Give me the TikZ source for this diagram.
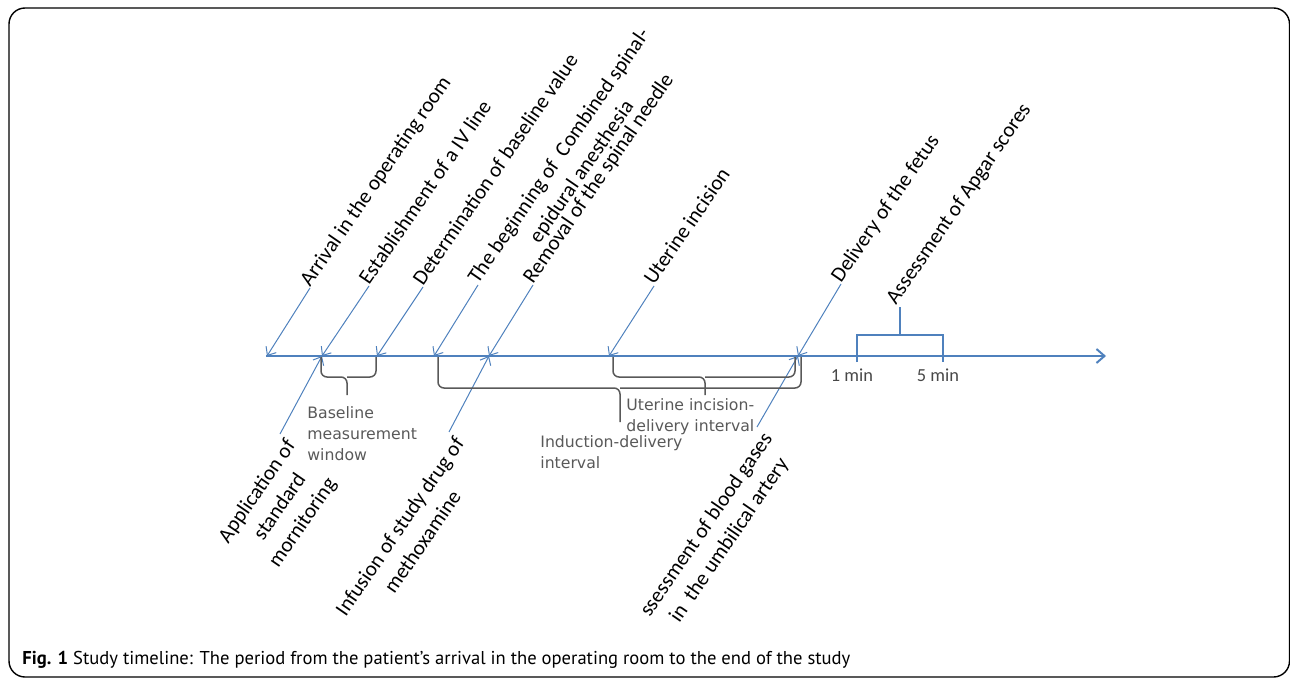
\documentclass[tikz,border=0pt]{standalone}
\usepackage{fontspec}
\usepackage{xcolor}
\usepackage{tikz}
\usetikzlibrary{arrows.meta}
\newfontfamily\lblfont{Carlito}
\newfontfamily\brfont{DejaVu Sans}
\newfontfamily\capfont{PT Sans}
\definecolor{lineblue}{RGB}{79,129,189}
\definecolor{bracegray}{RGB}{89,89,89}
\newcommand{\tstack}[2]{\begin{tabular}[t]{@{}#1@{}}#2\end{tabular}}

\begin{document}
\begin{tikzpicture}[
  x=0.5pt, y=-0.5pt,
  event/.style={font=\lblfont\fontsize{10.6}{13.8}\selectfont, rotate=55.5, inner sep=0pt},
  toplabel/.style={event, anchor=base west},
  botlabel/.style={event, anchor=north east},
  lead/.style={draw=lineblue, line width=0.5pt, -{Straight Barb[length=3.5pt,width=6pt]}},
  axis/.style={draw=lineblue, line width=1pt, -{Straight Barb[length=4pt,width=7pt]}},
  brace/.style={draw=bracegray, line width=0.75pt, rounded corners=3},
  bracelabel/.style={font=\brfont\fontsize{7.85}{10.5}\selectfont, text=bracegray, anchor=base west, inner sep=0pt},
  minlabel/.style={font=\lblfont\fontsize{9.2}{11}\selectfont, text=bracegray!80!black, anchor=base}
]
\useasboundingbox (0,0) rectangle (1290,679);
\draw[line width=0.7pt, rounded corners=8] (9,8) rectangle (1289.5,677);

% time axis and the events on it
\coordinate (start) at (266,356);
\coordinate (end) at (1106,356);
\draw[axis] (start) -- (end);
\coordinate (tArr) at (267,356);
\coordinate (tEst) at (322,356);
\coordinate (tDet) at (377,356);
\coordinate (tBeg) at (434,356);
\coordinate (tRem) at (489,356);
\coordinate (tUte) at (609,356);
\coordinate (tDel) at (798,356);

\node[toplabel] (arr) at (310,288) {Arrival in the operating room};
\node[toplabel] (est) at (369,286) {Establishment of a IV line};
\node[toplabel] (det) at (423,287) {Determination of baseline value};
\node[toplabel] (beg) at (478,285) {\tstack{c}{The beginning of\ \ Combined spinal-\\epidural anesthesia}};
\node[toplabel] (rem) at (533,285) {Removal of the spinal needle};
\node[toplabel] (ute) at (654,286) {Uterine incision};
\node[toplabel] (del) at (841,284) {Delivery of the fetus};

\draw[lead] (arr.base west) -- (tArr);
\draw[lead] (est.base west) -- (tEst);
\draw[lead] (det.base west) -- (tDet);
\draw[lead] (beg.base west) -- (tBeg);
\draw[lead] (rem.base west) -- (tRem);
\draw[lead] (ute.base west) -- (tUte);
\draw[lead] (del.base west) -- (tDel);

\node[botlabel] (app) at (280,434) {\tstack{c}{Application of\\standard\\mornitoring}};
\node[botlabel] (inf) at (449,432) {\tstack{c}{Infusion of study drug of\\methoxamine}};
\node[botlabel] (gas) at (757,427) {\tstack{c}{ssessment of blood gases\\in\ \ the umbilical artery}};

\draw[lead] (app.north east) -- (tEst);
\draw[lead] (inf.north east) -- (tRem);
\draw[lead] (gas.north east) -- (tDel);

% intervals under the axis
\draw[brace] (321,357) -- (321,377) -- (347,377) -- (347,395);
\draw[brace] (376,357) -- (376,377) -- (347,377);
\draw[brace] (438,357) -- (438,388) -- (620,388) -- (620,422);
\draw[brace] (801,357) -- (801,388) -- (620,388);
\draw[brace] (613,357) -- (613,377) -- (705,377) -- (705,395);
\draw[brace] (795,357) -- (795,377) -- (705,377);

\node[bracelabel] (base) at (307,418) {\tstack{l}{Baseline\\measurement\\window}};
\node[bracelabel] (ind) at (540,447) {\tstack{l}{Induction-delivery\\interval}};
\node[bracelabel] (uid) at (626,410) {\tstack{l}{Uterine incision-\\delivery interval}};

% Apgar scores at 1 and 5 min
\coordinate (one) at (857,362);
\coordinate (five) at (943,362);
\draw[draw=lineblue, line width=0.75pt] (one) -- (857,335) -- (943,335) -- (five);
\draw[draw=lineblue, line width=0.75pt] (900,335) -- (900,307);
\node[toplabel] (apg) at (896,306) {Assessment of Apgar scores};
\node[minlabel] (m1) at (852,381) {1 min};
\node[minlabel] (m5) at (938,381) {5 min};

\node[font=\capfont\fontsize{9.3}{11}\selectfont, anchor=base west, inner sep=0pt] (cap) at (22,664)
  {\textbf{Fig. 1} Study timeline: The period from the patient’s arrival in the operating room to the end of the study};
\end{tikzpicture}
\end{document}
